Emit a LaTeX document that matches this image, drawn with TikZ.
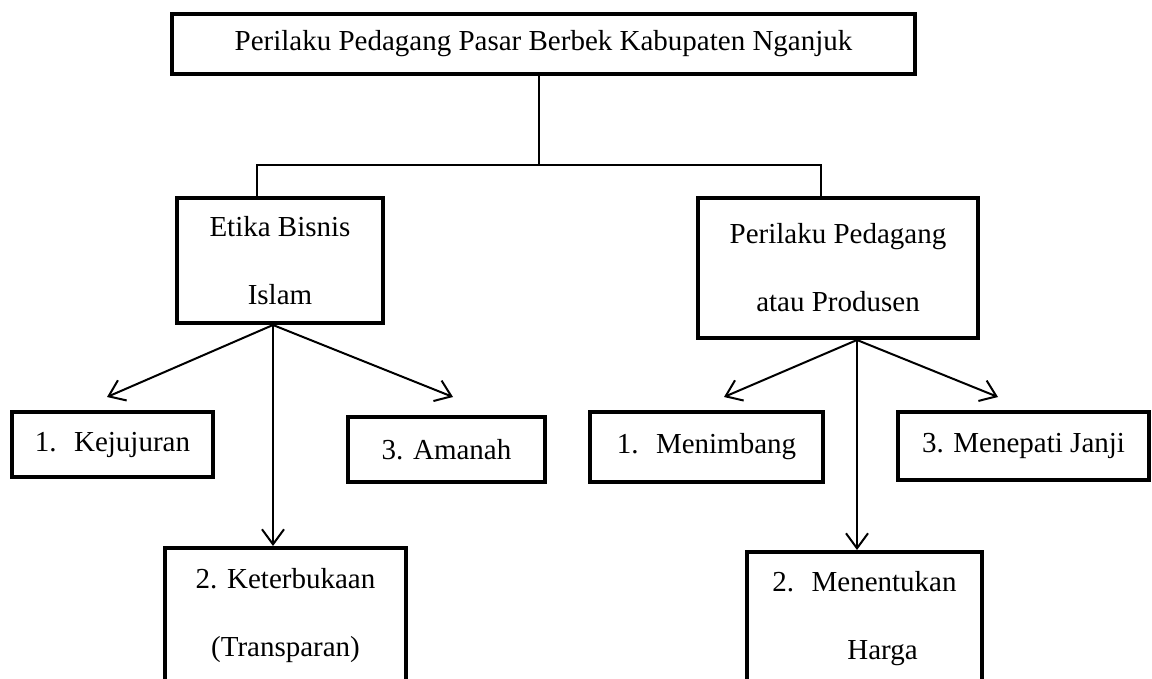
\documentclass[tikz,border=0pt]{standalone}
\usepackage{fontspec}
\setmainfont{Liberation Serif}
\usetikzlibrary{arrows.meta}
\tikzset{
	box/.style={draw, line width=4pt, inner sep=0pt, align=center, font=\fontsize{29}{68}\selectfont},
	branch/.style={line width=1.5pt},
	pointer/.style={line width=2pt, -{Straight Barb[length=15pt,width=22pt]}}
}
\begin{document}
\begin{tikzpicture}[x=1pt,y=-1pt]
	\useasboundingbox (0,0) rectangle (1152,679);
	% Define the boxes
	\node[box, minimum width=743pt, minimum height=60pt] (title) at (543.5,44) {Perilaku Pedagang Pasar Berbek Kabupaten Nganjuk};
	\node[box, minimum width=206pt, minimum height=125pt] (etika) at (280,260.5) {Etika Bisnis\\Islam};
	\node[box, minimum width=280pt, minimum height=140pt] (pelaku) at (838,268) {Perilaku Pedagang\\atau Produsen};
	\node[box, minimum width=201pt, minimum height=65pt] (kejujuran) at (112.5,444.5) {1.\hspace{0.6em}Kejujuran};
	\node[box, minimum width=197pt, minimum height=65pt] (amanah) at (446.5,449.5) {3. Amanah};
	\node[box, minimum width=241pt, minimum height=136pt] (keterbukaan) at (285.5,616) {2. Keterbukaan\\(Transparan)};
	\node[box, minimum width=233pt, minimum height=70pt] (menimbang) at (706.5,447) {1.\hspace{0.6em}Menimbang};
	\node[box, minimum width=251pt, minimum height=68pt] (janji) at (1023.5,446) {3. Menepati Janji};
	\node[box, minimum width=235pt, minimum height=134pt] (harga) at (864.5,619) {2.\hspace{0.6em}Menentukan\\\hspace*{36pt}Harga};
	% Define the desired points
	\coordinate (split) at (539,165);
	\coordinate (lbranch) at (257,165);
	\coordinate (rbranch) at (821,165);
	\coordinate (etikaOut) at ([xshift=-7pt]etika.south);
	\coordinate (pelakuOut) at ([xshift=19pt]pelaku.south);
	\coordinate (kejTip) at (107,397);
	\coordinate (amanahTip) at (453,397);
	\coordinate (menimbangTip) at (724,397);
	\coordinate (janjiTip) at (998,397);
	% Draw the branches
	\draw[branch] (title.south -| split) -- (split);
	\draw[branch] (lbranch |- etika.north) -- (lbranch) -- (rbranch) -- (rbranch |- pelaku.north);
	% Add arrows
	\draw[pointer] (etikaOut) -- (kejTip);
	\draw[pointer] (etikaOut) -- (etikaOut |- keterbukaan.north);
	\draw[pointer] (etikaOut) -- (amanahTip);
	\draw[pointer] (pelakuOut) -- (menimbangTip);
	\draw[pointer] (pelakuOut) -- (pelakuOut |- harga.north);
	\draw[pointer] (pelakuOut) -- (janjiTip);
\end{tikzpicture}
\end{document}
